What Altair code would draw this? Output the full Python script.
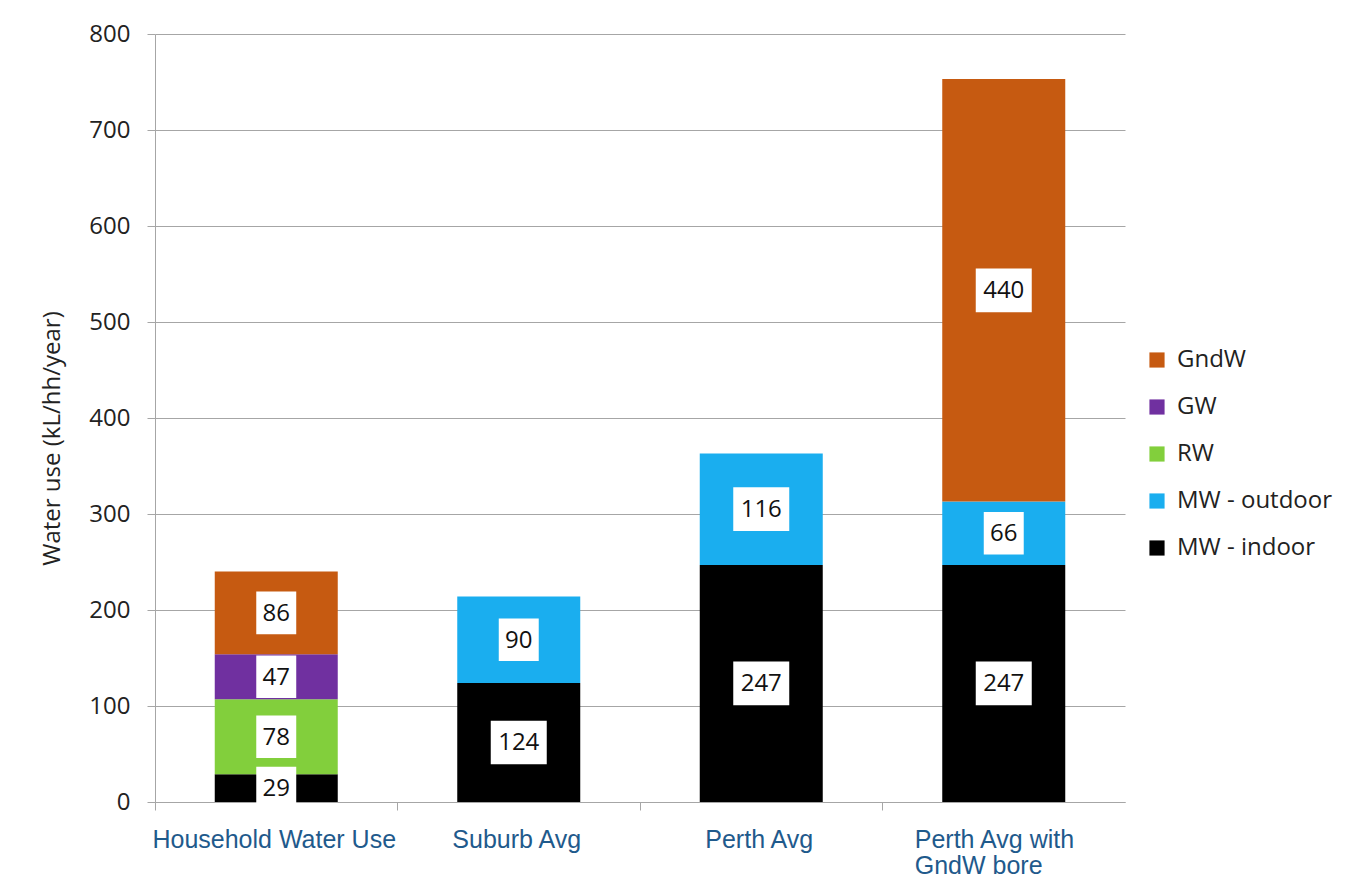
import altair as alt
import pandas as pd

categories = ["Household Water Use", "Suburb Avg", "Perth Avg", "Perth Avg with GndW bore"]
series = ["MW - indoor", "MW - outdoor", "RW", "GW", "GndW"]
mw_indoor = [29, 124, 247, 247]
mw_outdoor = [0, 90, 116, 66]
rw = [78, 0, 0, 0]
gw = [47, 0, 0, 0]
gndw = [86, 0, 0, 440]

legend_order = ["GndW", "GW", "RW", "MW - outdoor", "MW - indoor"]
legend_colors = ["#c65a11", "#7030a0", "#82cf3c", "#1aaeef", "#000000"]
y_ticks = [0, 100, 200, 300, 400, 500, 600, 700, 800]

rows = []
for si, (name, vals) in enumerate(zip(series, [mw_indoor, mw_outdoor, rw, gw, gndw])):
    for c, v in zip(categories, vals):
        rows.append({"category": c, "series": name, "order": si, "value": v})
df = pd.DataFrame(rows)

LAST = "Perth Avg with GndW bore"
box3 = "M-1,-0.78L1,-0.78L1,0.78L-1,0.78Z"
box2 = "M-0.714,-0.76L0.714,-0.76L0.714,0.76L-0.714,0.76Z"

base = (
    alt.Chart(df)
    .transform_filter("datum.value > 0")
    .transform_stack(stack="value", groupby=["category"], as_=["y0", "y1"],
                     sort=[alt.SortField("order", order="ascending")])
    .transform_calculate(mid="(datum.y0 + datum.y1) / 2")
)

x_enc = alt.X(
    "category:N", sort=categories, title=None,
    scale=alt.Scale(paddingInner=0, paddingOuter=0),
    axis=alt.Axis(
        labelAngle=0, bandPosition=0, labelLimit=0,
        labelOffset={"condition": {"test": f"datum.value == '{LAST}'", "value": -89}, "value": -2},
        labelAlign={"condition": {"test": f"datum.value == '{LAST}'", "value": "left"}, "value": "center"},
        labelExpr=f"datum.value == '{LAST}' ? ['Perth Avg with', 'GndW bore'] : datum.label",
        labelFont="Liberation Sans", labelFontSize=25, labelColor="#1f5a8c",
        labelBaseline="alphabetic", labelLineHeight=26, labelPadding=37,
        domainColor="#a6a6a6", tickColor="#a6a6a6", tickSize=8, grid=False,
    ),
)

bars = base.mark_bar(width=123).encode(
    x=x_enc,
    y=alt.Y(
        "y0:Q", scale=alt.Scale(domain=[0, 800], nice=False),
        axis=alt.Axis(
            title="Water use (kL/hh/year)", values=y_ticks, grid=True,
            gridColor="#a6a6a6", domainColor="#a6a6a6", tickColor="#a6a6a6", tickSize=8,
            labelFont="Open Sans", labelFontSize=24, labelColor="#222222", labelPadding=17,
            titleFont="Open Sans", titleFontSize=24, titleFontWeight="normal", titleColor="#222222",
            titleX=-103, titleY=404, titleAlign="center", titleBaseline="middle", titleAngle=270,
        ),
    ),
    y2="y1:Q",
    color=alt.Color(
        "series:N",
        scale=alt.Scale(domain=legend_order, range=legend_colors),
        legend=alt.Legend(
            title=None, orient="none", legendX=990, legendY=314,
            labelFont="Open Sans", labelFontSize=24, labelColor="#222222",
            symbolType="square", symbolSize=230, symbolStrokeWidth=0,
            rowPadding=23, labelOffset=8, padding=0,
        ),
    ),
)

boxes3 = base.transform_filter("datum.value >= 100").mark_point(
    shape=box3, size=3136, filled=True, fill="white", opacity=1, strokeWidth=0
).encode(x=alt.X("category:N", sort=categories), y="mid:Q")

boxes2 = base.transform_filter("datum.value < 100").mark_point(
    shape=box2, size=3136, filled=True, fill="white", opacity=1, strokeWidth=0
).encode(x=alt.X("category:N", sort=categories), y="mid:Q")

labels = base.mark_text(font="Open Sans", fontSize=24, color="#111111", baseline="middle", dy=1).encode(
    x=alt.X("category:N", sort=categories), y="mid:Q", text="value:Q"
)

chart = (
    alt.layer(bars, boxes3, boxes2, labels)
    .properties(
        width=970, height=768,
        padding={"left": 147, "top": 26, "right": 235, "bottom": 80},
        autosize=alt.AutoSizeParams(type="none"),
        background="white",
    )
    .configure_view(stroke=None)
)

chart.save("out.html", embed_options={"renderer": "svg", "actions": False})
